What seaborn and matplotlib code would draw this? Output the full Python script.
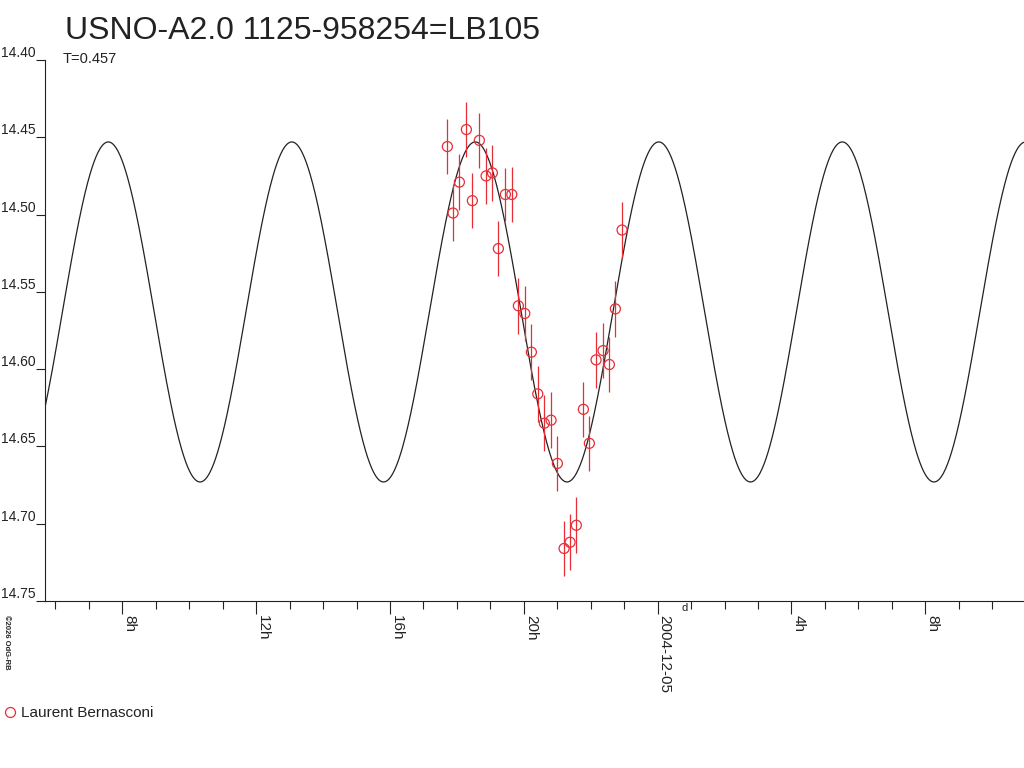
import matplotlib
matplotlib.use("Agg")
import matplotlib.pyplot as plt
from matplotlib.lines import Line2D
from matplotlib.ticker import MultipleLocator
import numpy as np
import pandas as pd
import seaborn as sns

# observations: hours since 2004-12-04 00:00 UT, magnitude, error
obs_hours = [17.716, 17.886, 18.075, 18.284, 18.463, 18.672, 18.873, 19.061,
             19.240, 19.450, 19.641, 19.838, 20.030, 20.227, 20.418, 20.615,
             20.815, 21.004, 21.204, 21.383, 21.571, 21.781, 21.960, 22.160,
             22.369, 22.558, 22.737, 22.937]
obs_mag = [14.456, 14.499, 14.479, 14.445, 14.491, 14.452, 14.475, 14.473,
           14.522, 14.487, 14.487, 14.559, 14.564, 14.589, 14.616, 14.635,
           14.633, 14.661, 14.716, 14.712, 14.701, 14.626, 14.648, 14.594,
           14.588, 14.597, 14.561, 14.510]
obs_err = [0.018, 0.018, 0.018, 0.018, 0.018, 0.018, 0.018, 0.018,
           0.018, 0.017, 0.018, 0.018, 0.018, 0.018, 0.018, 0.018,
           0.018, 0.018, 0.018, 0.018, 0.018, 0.018, 0.018, 0.018,
           0.018, 0.018, 0.018, 0.018]

# fitted light curve (double wave, period T in days)
period_days = 0.457
fit_mean = 14.563
fit_amp = 0.110
fit_max_hour = 18.55

tick_hours = [8, 12, 16, 20, 24, 28, 32]
tick_labels = ["8h", "12h", "16h", "20h", "2004-12-05", "4h", "8h"]
y_ticks = [14.40, 14.45, 14.50, 14.55, 14.60, 14.65, 14.70, 14.75]
observer = "Laurent Bernasconi"

RED = "#e62e36"
INK = "#222222"

x_lo, x_hi = 5.69, 34.95
t = np.linspace(x_lo, x_hi, 1500)
wave = period_days * 24 / 2
curve = pd.DataFrame({"hour": t,
                      "mag": fit_mean - fit_amp * np.cos(2 * np.pi * (t - fit_max_hour) / wave)})
obs = pd.DataFrame({"hour": obs_hours, "mag": obs_mag, "err": obs_err})

sns.set_theme(style="white")
plt.rcParams["font.family"] = ["Liberation Sans", "DejaVu Sans"]

fig = plt.figure(figsize=(10.24, 7.68), dpi=100)
ax = fig.add_axes([45 / 1024, 1 - 601 / 768, 1 - 45 / 1024, 541 / 768])

sns.lineplot(data=curve, x="hour", y="mag", color=INK, linewidth=0.9, ax=ax)
ax.errorbar(obs["hour"], obs["mag"], yerr=obs["err"], fmt="none",
            ecolor=RED, elinewidth=0.9, capsize=0)
sns.scatterplot(data=obs, x="hour", y="mag", marker="o", s=52,
                facecolors="none", edgecolor=RED, linewidth=0.9, ax=ax, zorder=3)

ax.set_xlim(x_lo, x_hi)
ax.set_ylim(14.75, 14.40)
ax.set_xlabel("")
ax.set_ylabel("")

for side in ["top", "right"]:
    ax.spines[side].set_visible(False)
for side in ["left", "bottom"]:
    ax.spines[side].set_color(INK)
    ax.spines[side].set_linewidth(0.8)

ax.set_yticks(y_ticks)
ax.set_yticklabels([f"{v:.2f}" for v in y_ticks])
ax.tick_params(axis="y", direction="out", length=6.5, width=0.8, pad=0,
               colors=INK, labelsize=10, left=True)
for lbl in ax.get_yticklabels():
    lbl.set_verticalalignment("bottom")

ax.set_xticks(tick_hours)
ax.set_xticklabels(tick_labels, rotation=-90, ha="left")
ax.xaxis.set_minor_locator(MultipleLocator(1))
ax.tick_params(axis="x", which="major", direction="out", length=9, width=0.8,
               pad=1, colors=INK, labelsize=11, bottom=True)
ax.tick_params(axis="x", which="minor", direction="out", length=5.8, width=0.8,
               colors=INK, bottom=True)

# moon mark under the axis
ax.text(24.82, -0.004, "d", transform=ax.get_xaxis_transform(), fontsize=8,
        ha="center", va="top", color=INK)

fig.text(65 / 1024, 1 - 39 / 768, "USNO-A2.0 1125-958254=LB105",
         fontsize=23, va="baseline", ha="left", color=INK)
fig.text(63 / 1024, 1 - 63 / 768, f"T={period_days}",
         fontsize=10.5, va="baseline", ha="left", color=INK)
fig.text(3 / 1024, 1 - 615 / 768, "©2026 OdG-RB", rotation=-90,
         fontsize=5.5, fontweight="bold", va="top", ha="left", color=INK)

handle = Line2D([], [], marker="o", linestyle="", markersize=7.2,
                markerfacecolor="none", markeredgecolor=RED, markeredgewidth=0.9)
fig.legend([handle], [observer], loc="center left",
           bbox_to_anchor=(3 / 1024, 1 - 713 / 768), frameon=False, fontsize=11,
           handlelength=0.9, handletextpad=0.3, borderpad=0, borderaxespad=0,
           labelcolor=INK)

fig.savefig("out.png", dpi=100)
